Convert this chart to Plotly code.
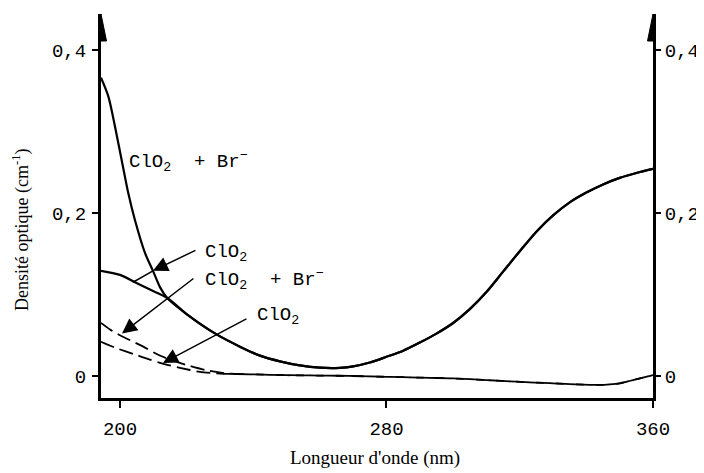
import plotly.graph_objects as go

# ---- data ----
wl_br_solid = [194.3, 196.5, 198.5, 200.5, 202.5, 204.5, 207.5, 210, 212, 214.1]
od_br_solid = [0.366, 0.343, 0.306, 0.265, 0.224, 0.191, 0.151, 0.128, 0.109, 0.096]

wl_clo2_solid = [194.3, 200, 204.5, 209, 214.1]
od_clo2_solid = [0.129, 0.124, 0.115, 0.106, 0.096]

# common tail of both solid curves (ClO2 band)
wl_solid_tail = [214.1, 220, 229, 236, 242, 248, 254, 260, 266, 270, 275, 280, 285, 290,
                 295, 300, 305, 310, 315, 320, 325, 330, 335, 340, 345, 350, 355, 360]
od_solid_tail = [0.096, 0.076, 0.051, 0.036, 0.025, 0.018, 0.013, 0.0102, 0.0100, 0.0118,
                 0.0165, 0.0235, 0.031, 0.041, 0.052, 0.065, 0.082, 0.103, 0.128, 0.153,
                 0.177, 0.197, 0.213, 0.225, 0.235, 0.243, 0.249, 0.254]

wl_br_dash = [194.3, 197, 200, 204, 207, 211, 215, 220, 226, 232, 240]
od_br_dash = [0.065, 0.057, 0.050, 0.042, 0.036, 0.027, 0.020, 0.0135, 0.007, 0.003, 0.002]

wl_clo2_dash = [194.3, 199, 204, 209, 213, 218, 224, 230, 240]
od_clo2_dash = [0.042, 0.034, 0.027, 0.020, 0.015, 0.010, 0.005, 0.003, 0.002]

wl_dash_tail = [240, 250, 260, 270, 280, 290, 300, 310, 319, 330, 344, 350, 354, 357, 360]
od_dash_tail = [0.002, 0.001, 0.0005, 0.0, -0.001, -0.002, -0.003, -0.005, -0.007,
                -0.009, -0.011, -0.009, -0.005, -0.002, 0.001]

x_ticks = [200, 280, 360]
x_ticktext = ["200", "280", "360"]
y_ticks = [0, 0.2, 0.4]
y_ticktext = ["0", "0,2", "0,4"]

X_RANGE = [194.3, 360]
Y_RANGE = [-0.027, 0.444]

MONO = "Liberation Mono"
SERIF = "Liberation Serif"
BLACK = "#000000"

fig = go.Figure()

solid = dict(color=BLACK, width=2.2)
dashed = dict(color=BLACK, width=1.8, dash="14px,6px")

fig.add_trace(go.Scatter(x=wl_br_solid + wl_solid_tail[1:], y=od_br_solid + od_solid_tail[1:],
                         mode="lines", line=solid, line_shape="spline",
                         line_smoothing=0.8, name="ClO2 + Br-"))
fig.add_trace(go.Scatter(x=wl_clo2_solid + wl_solid_tail[1:], y=od_clo2_solid + od_solid_tail[1:],
                         mode="lines", line=solid, line_shape="spline",
                         line_smoothing=0.8, name="ClO2"))
fig.add_trace(go.Scatter(x=wl_br_dash + wl_dash_tail[1:], y=od_br_dash + od_dash_tail[1:],
                         mode="lines", line=dashed, line_shape="spline",
                         line_smoothing=0.6, name="ClO2 + Br- (2)"))
fig.add_trace(go.Scatter(x=wl_clo2_dash + wl_dash_tail[1:], y=od_clo2_dash + od_dash_tail[1:],
                         mode="lines", line=dashed, line_shape="spline",
                         line_smoothing=0.6, name="ClO2 (2)"))
# invisible trace to anchor the right axis
fig.add_trace(go.Scatter(x=[X_RANGE[1]], y=[0], yaxis="y2", mode="markers",
                         marker=dict(opacity=0), hoverinfo="skip", showlegend=False))

axis_common = dict(showline=True, linecolor=BLACK, linewidth=3, showgrid=False,
                   zeroline=False, ticks="outside", tickcolor=BLACK, tickwidth=2,
                   automargin=False,
                   tickfont=dict(family=MONO, size=19, color=BLACK))

# the page body has an 8 px default margin: the figure is 8 px smaller and
# its margins are shifted so the plot area lands where the reference has it
fig.update_layout(
    template="none",
    width=696, height=465,
    margin=dict(l=93, r=51, t=6, b=75, pad=0),
    plot_bgcolor="white", paper_bgcolor="white",
    showlegend=False,
    xaxis=dict(range=X_RANGE, tickvals=x_ticks, ticktext=x_ticktext, ticklen=7,
               ticklabelstandoff=4, **axis_common),
    yaxis=dict(range=Y_RANGE, tickvals=y_ticks, ticktext=y_ticktext, ticklen=6,
               ticklabelstandoff=2, **axis_common),
    yaxis2=dict(range=Y_RANGE, tickvals=y_ticks, ticktext=y_ticktext, ticklen=5,
                overlaying="y", side="right", ticklabelstandoff=0, **axis_common),
)

# arrowheads on top of the two vertical axes
for xa in X_RANGE:
    fig.add_shape(type="path", xref="x", yref="y", xsizemode="pixel", ysizemode="pixel",
                  xanchor=xa, yanchor=Y_RANGE[1], path="M0,0 L-5.5,-27 L5.5,-27 Z",
                  fillcolor=BLACK, line=dict(color=BLACK, width=1))

# curve labels
lab_font = dict(family=MONO, size=19, color=BLACK)
NB = "\u00a0"
BR_TXT = "ClO<sub>2</sub>" + NB * 2 + "+" + NB + "Br<sup>\u2212</sup>"
labels = [
    (202.1, 0.263, BR_TXT),
    (224.9, 0.151, "ClO<sub>2</sub>"),
    (224.9, 0.118, BR_TXT),
    (240.5, 0.074, "ClO<sub>2</sub>"),
]
for lx, ly, txt in labels:
    fig.add_annotation(x=lx, y=ly, xref="x", yref="y", text=txt, showarrow=False,
                       xanchor="left", yanchor="middle", font=lab_font)

# pointer arrows (tail -> head)
arrows = [
    ((223.1, 0.155), (209.9, 0.129)),
    ((222.5, 0.121), (200.6, 0.052)),
    ((238.4, 0.071), (212.9, 0.016)),
]
for (tx, ty), (hx, hy) in arrows:
    fig.add_annotation(x=hx, y=hy, ax=tx, ay=ty, xref="x", yref="y", axref="x", ayref="y",
                       text="", showarrow=True, arrowhead=2, arrowsize=2.0, arrowwidth=1.5,
                       arrowcolor=BLACK, standoff=0, startstandoff=0)
# extension of the first pointer beyond its head, down to the lower solid curve
fig.add_shape(type="line", xref="x", yref="y", x0=209.9, y0=0.129, x1=203.9, y1=0.115,
              line=dict(color=BLACK, width=1.5))

# axis titles
fig.add_annotation(x=0.496, y=-0.156, xref="paper", yref="paper", showarrow=False,
                   text="Longueur d'onde (nm)", font=dict(family=SERIF, size=19, color=BLACK),
                   xanchor="center", yanchor="middle")
fig.add_annotation(x=-0.145, y=0.4375, xref="paper", yref="paper", showarrow=False,
                   text="Densité optique (cm<sup>-1</sup>)", textangle=-90,
                   font=dict(family=SERIF, size=18, color=BLACK),
                   xanchor="center", yanchor="middle")

fig.write_html("out.html")
